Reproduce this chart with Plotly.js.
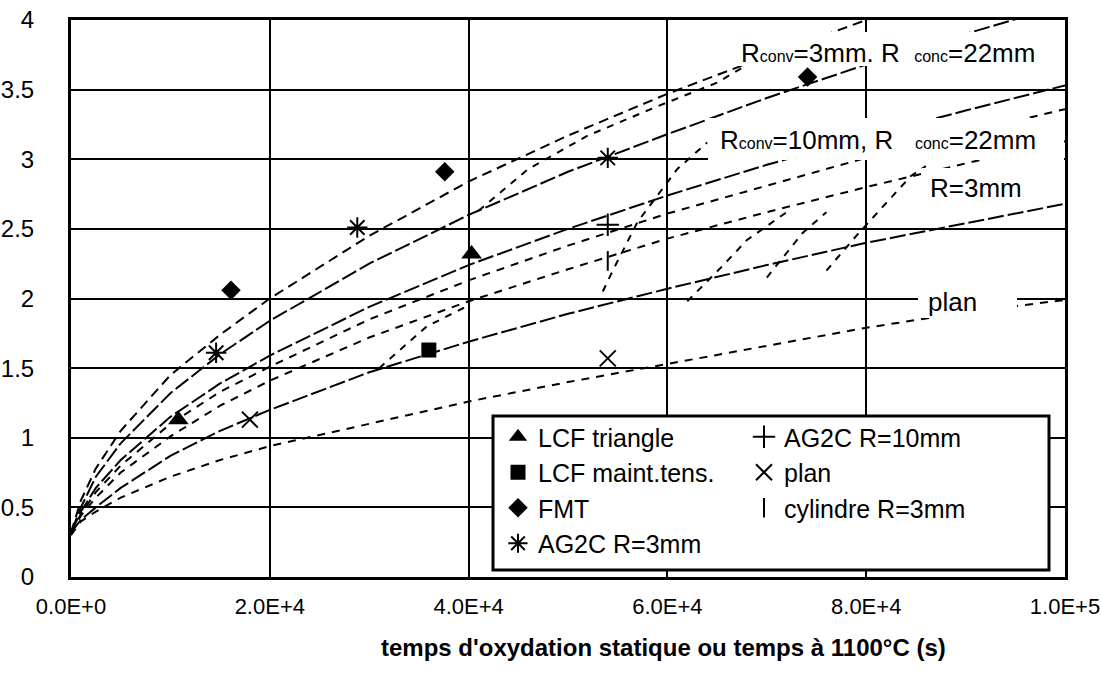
<!DOCTYPE html>
<html><head><meta charset="utf-8">
<script src="https://cdn.plot.ly/plotly-3.0.1.min.js"></script>
<style>html,body{margin:0;padding:0;background:#fff}</style>
</head><body><div id="chart" style="width:1101px;height:673px"></div>
<script>
// ---- data ----
const xs = [0, 1000, 2500, 5000, 10000, 15000, 20000, 30000, 40000, 50000, 60000, 70000, 80000, 90000, 100000];
// Rconv=3mm, Rconc=22mm
const rconv3A = [0.32, 0.55, 0.78, 1.05, 1.45, 1.74, 2.00, 2.45, 2.84, 3.17, 3.47, 3.74, 4.00, 4.24, 4.47];
const rconv3B = [0.32, 0.50, 0.72, 0.96, 1.32, 1.60, 1.84, 2.25, 2.60, 2.91, 3.18, 3.44, 3.68, 3.90, 4.11];
// Rconv=10mm, Rconc=22mm
const rconv10A = [0.32, 0.47, 0.64, 0.84, 1.15, 1.39, 1.59, 1.94, 2.24, 2.50, 2.74, 2.96, 3.16, 3.35, 3.53];
const rconv10B = [0.32, 0.45, 0.61, 0.80, 1.10, 1.33, 1.51, 1.85, 2.13, 2.38, 2.61, 2.81, 3.01, 3.19, 3.36];
// R=3mm
const r3A = [0.32, 0.44, 0.57, 0.75, 1.01, 1.23, 1.41, 1.72, 1.98, 2.21, 2.43, 2.62, 2.80, 2.97, 3.13];
const r3B = [0.32, 0.41, 0.50, 0.64, 0.87, 1.05, 1.20, 1.47, 1.69, 1.89, 2.07, 2.24, 2.40, 2.54, 2.68];
// plan
const planCurve = [0.30, 0.40, 0.47, 0.57, 0.72, 0.84, 0.94, 1.10, 1.26, 1.40, 1.53, 1.66, 1.79, 1.90, 1.99];
// steep transition segments
const steep1X = [41000, 46000, 52000, 59000, 65000, 69000];
const steep1Y = [2.63, 2.93, 3.17, 3.38, 3.55, 3.72];
const steep2X = [53500, 54500, 57000, 61000, 64000];
const steep2Y = [2.05, 2.20, 2.55, 2.93, 3.12];
const steep3X = [62000, 65500, 68000, 72000];
const steep3Y = [1.98, 2.23, 2.42, 2.62];
const steep4X = [70000, 73600, 76000];
const steep4Y = [2.15, 2.47, 2.62];
const steep5X = [76000, 79000, 84500, 86000];
const steep5Y = [2.20, 2.45, 2.88, 2.95];
const steep6X = [31000, 35800, 40000];
const steep6Y = [1.50, 1.80, 1.95];
// measured points
const lcfTriX = [10800, 40300];      const lcfTriY = [1.13, 2.32];
const lcfMaintX = [36000];           const lcfMaintY = [1.63];
const fmtX = [16100, 37600, 74100];  const fmtY = [2.06, 2.91, 3.59];
const ag2c3X = [14600, 28800, 54000]; const ag2c3Y = [1.61, 2.51, 3.01];
const ag2c10X = [54000];             const ag2c10Y = [2.53];
const planX = [18000, 54000];        const planY = [1.13, 1.57];
const cylX = [54000];                const cylY = [2.27];
// ticks
const xTickVals = [0, 20000, 40000, 60000, 80000, 100000];
const xTickText = ['0.0E+0', '2.0E+4', '4.0E+4', '6.0E+4', '8.0E+4', '1.0E+5'];

const FONT = 'Liberation Sans, Arial, sans-serif';
const L = 71, R = 1065, T = 20, B = 577;
const px = v => (v - L) / (R - L);
const py = v => (B - v) / (B - T);

function curve(x, y, dash) {
  return {x: x, y: y, type: 'scatter', mode: 'lines', showlegend: false, hoverinfo: 'skip',
          line: {color: '#000', width: 2, dash: dash}};
}
const longD = '16px,4px', shortD = '8px,7px';
const traces = [
  curve(xs, rconv3A, '10px,6px'),
  curve(xs, rconv3B, longD),
  curve(xs, rconv10A, longD),
  curve(xs, rconv10B, shortD),
  curve(xs, r3A, shortD),
  curve(xs, r3B, longD),
  curve(xs, planCurve, shortD),
  curve(steep1X, steep1Y, '7px,7px'),
  curve(steep2X, steep2Y, '7px,7px'),
  curve(steep3X, steep3Y, '7px,7px'),
  curve(steep4X, steep4Y, '7px,7px'),
  curve(steep5X, steep5Y, '7px,7px'),
  curve(steep6X, steep6Y, '7px,7px'),
];
function pts(name, x, y, symbol, size, legend, open) {
  return {x: x, y: y, name: name, type: 'scatter', mode: 'markers', legend: legend,
          marker: {symbol: symbol, size: size, color: '#000',
                   line: {color: '#000', width: open ? 2 : 0}}};
}
traces.push(pts('LCF triangle', lcfTriX, lcfTriY, 'triangle-up', 18, 'legend', false));
traces.push(pts('LCF maint.tens.', lcfMaintX, lcfMaintY, 'square', 15, 'legend', false));
traces.push(pts('FMT', fmtX, fmtY, 'diamond', 15, 'legend', false));
traces.push(pts('AG2C R=3mm', ag2c3X, ag2c3Y, 'asterisk-open', 17, 'legend', true));
traces.push(pts('AG2C R=10mm', ag2c10X, ag2c10Y, 'cross-thin-open', 16, 'legend2', true));
traces.push(pts('plan', planX, planY, 'x-thin-open', 16, 'legend2', true));
traces.push(pts('cylindre R=3mm', cylX, cylY, 'line-ns-open', 14, 'legend2', true));

const box = (x0, x1, y0, y1, lw) => ({type: 'rect', xref: 'paper', yref: 'paper', layer: 'above',
  x0: px(x0), x1: px(x1), y0: py(y1), y1: py(y0), fillcolor: '#fff', line: {color: '#000', width: lw}});

const small = t => '<span style="font-size:16px">' + t + '</span>';
const layout = {
  width: 1101, height: 673,
  margin: {l: L, r: 1101 - R, t: T, b: 673 - B, pad: 0},
  paper_bgcolor: '#fff', plot_bgcolor: '#fff',
  font: {family: FONT, color: '#000', size: 24},
  xaxis: {range: [0, 100000], tickvals: xTickVals, ticktext: xTickText, ticks: '',
          showgrid: true, gridcolor: '#000', gridwidth: 2, zeroline: false,
          showline: true, linecolor: '#000', linewidth: 3, mirror: true,
          tickfont: {size: 22}, ticklabelstandoff: 8, ticklabeloverflow: 'allow', fixedrange: true},
  yaxis: {range: [0, 4], dtick: 0.5, tick0: 0, ticks: '',
          showgrid: true, gridcolor: '#000', gridwidth: 2, zeroline: false,
          showline: true, linecolor: '#000', linewidth: 3, mirror: true,
          tickfont: {size: 24}, ticklabelstandoff: 29, fixedrange: true},
  showlegend: true,
  legend: {x: px(498), y: py(414), xanchor: 'left', yanchor: 'top', bgcolor: 'rgba(0,0,0,0)',
           borderwidth: 0, font: {size: 25}, tracegroupgap: 0, itemclick: false},
  legend2: {x: px(744), y: py(414), xanchor: 'left', yanchor: 'top', bgcolor: 'rgba(0,0,0,0)',
           borderwidth: 0, font: {size: 25}, tracegroupgap: 0, itemclick: false},
  shapes: [
    box(493, 1049, 416, 570, 3),
    box(730, 1064, 32, 66, 0),
    box(708, 1064, 118, 160, 0),
    box(922, 1040, 168, 205, 0),
    box(918, 1017, 285, 318, 0)
  ],
  annotations: [
    {xref: 'paper', yref: 'paper', x: px(888), y: py(53), xanchor: 'center', yanchor: 'middle', showarrow: false,
     text: 'R' + small('conv') + '=3mm. R&nbsp;&nbsp;' + small('conc') + '=22mm', font: {size: 26}},
    {xref: 'paper', yref: 'paper', x: px(878), y: py(140), xanchor: 'center', yanchor: 'middle', showarrow: false,
     text: 'R' + small('conv') + '=10mm, R&nbsp;&nbsp;&nbsp;' + small('conc') + '=22mm', font: {size: 26}},
    {xref: 'paper', yref: 'paper', x: px(976), y: py(188), xanchor: 'center', yanchor: 'middle', showarrow: false,
     text: 'R=3mm', font: {size: 26}},
    {xref: 'paper', yref: 'paper', x: px(952), y: py(302), xanchor: 'center', yanchor: 'middle', showarrow: false,
     text: 'plan', font: {size: 26}},
    {xref: 'paper', yref: 'paper', x: px(663), y: py(647), xanchor: 'center', yanchor: 'middle', showarrow: false,
     text: "<b>temps d'oxydation statique ou temps à 1100°C (s)</b>", font: {size: 24}}
  ]
};
Plotly.newPlot('chart', traces, layout, {staticPlot: true, displayModeBar: false});
</script></body></html>
